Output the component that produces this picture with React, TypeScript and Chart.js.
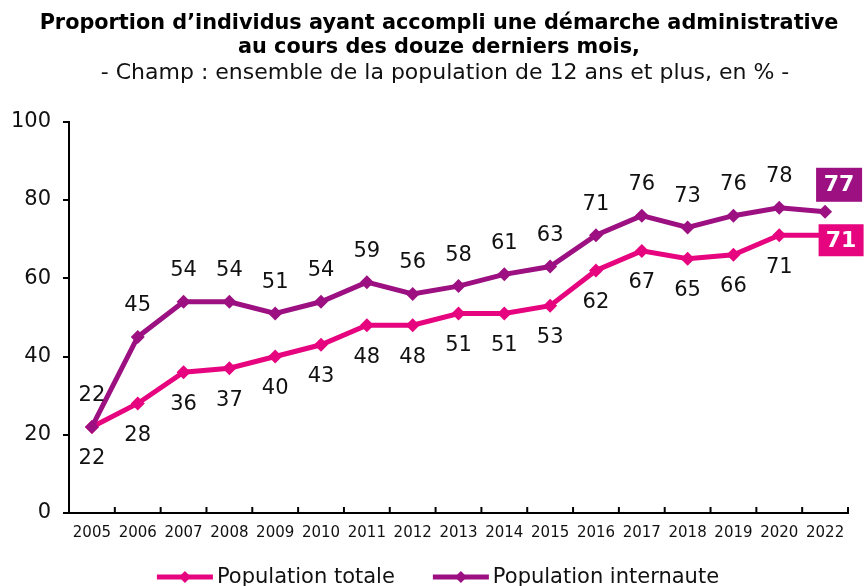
import React, { useEffect, useRef } from 'react';
import { Chart, registerables } from 'chart.js';

Chart.register(...registerables);

const years = ['2005', '2006', '2007', '2008', '2009', '2010', '2011', '2012', '2013', '2014', '2015', '2016', '2017', '2018', '2019', '2020', '2022'];
const totale = [22, 28, 36, 37, 40, 43, 48, 48, 51, 51, 53, 62, 67, 65, 66, 71, 71];
const internaute = [22, 45, 54, 54, 51, 54, 59, 56, 58, 61, 63, 71, 76, 73, 76, 78, 77];
const titleLines = ['Proportion d\u2019individus ayant accompli une démarche administrative', 'au cours des douze derniers mois,'];
const subtitleText = '- Champ : ensemble de la population de 12 ans et plus, en % -';
const seriesNames = ['Population totale', 'Population internaute'];

const PINK = '#E6047F';
const PURPLE = '#9C1081';
const FONT = '"DejaVu Sans", Verdana, sans-serif';

const labelPlugin = {
  id: 'valueLabels',
  afterDatasetsDraw(chart: any) {
    const ctx = chart.ctx;
    ctx.save();
    chart.data.datasets.forEach((ds: any, di: number) => {
      const meta = chart.getDatasetMeta(di);
      const below = ds.labelSide === 'below';
      meta.data.forEach((pt: any, i: number) => {
        const v = ds.data[i];
        const last = i === meta.data.length - 1;
        if (!last) {
          ctx.font = `21px ${FONT}`;
          ctx.fillStyle = '#111';
          ctx.textAlign = 'center';
          ctx.textBaseline = 'middle';
          ctx.fillText(String(v), pt.x, pt.y + (below ? 32 : -31));
        } else {
          const cx = pt.x + (below ? 16 : 14);
          const cy = pt.y + (below ? 5 : -27);
          const w = below ? 45 : 46;
          const h = below ? 32 : 34;
          ctx.fillStyle = ds.borderColor;
          ctx.fillRect(cx - w / 2, cy - h / 2, w, h);
          ctx.font = `bold 22px ${FONT}`;
          ctx.fillStyle = '#fff';
          ctx.textAlign = 'center';
          ctx.textBaseline = 'middle';
          ctx.fillText(String(v), cx, cy + 1);
        }
      });
    });
    ctx.restore();
  },
};

const axisTicksPlugin = {
  id: 'xInnerTicks',
  afterDraw(chart: any) {
    const ctx = chart.ctx;
    const xs = chart.scales.x;
    const bottom = chart.chartArea.bottom;
    ctx.save();
    ctx.strokeStyle = '#000';
    ctx.lineWidth = 2;
    for (let i = 0; i <= years.length; i++) {
      const x = xs.getPixelForValue(i - 0.5);
      ctx.beginPath();
      ctx.moveTo(x, bottom - 6);
      ctx.lineTo(x, bottom);
      ctx.stroke();
    }
    ctx.restore();
  },
};

// shift the title blocks so they are centred where the original has them
const titleShiftPlugin = {
  id: 'titleShift',
  afterLayout(chart: any) {
    chart.boxes.forEach((b: any) => {
      if (b.options && b.options.text !== undefined) {
        const isSub = b.options.text === subtitleText;
        const dx = isSub ? 21 : 15;
        b.left += dx;
        b.right += dx;
      }
    });
  },
};

const legendPlugin = {
  id: 'customLegend',
  afterDraw(chart: any) {
    const ctx = chart.ctx;
    ctx.save();
    ctx.font = `21px ${FONT}`;
    const sample = 56;
    const gapText = 4;
    const gapItems = 38;
    const dsList = [chart.data.datasets[0], chart.data.datasets[1]];
    const widths = dsList.map((d: any) => sample + gapText + ctx.measureText(d.label).width);
    const total = widths[0] + gapItems + widths[1];
    let x = 438 - total / 2;
    const y = chart.height - 9;
    dsList.forEach((d: any, i: number) => {
      ctx.strokeStyle = d.borderColor;
      ctx.lineWidth = 5;
      ctx.beginPath();
      ctx.moveTo(x, y);
      ctx.lineTo(x + sample, y);
      ctx.stroke();
      const mx = x + sample / 2;
      ctx.fillStyle = d.borderColor;
      ctx.beginPath();
      ctx.moveTo(mx, y - 6);
      ctx.lineTo(mx + 6, y);
      ctx.lineTo(mx, y + 6);
      ctx.lineTo(mx - 6, y);
      ctx.closePath();
      ctx.fill();
      ctx.fillStyle = '#111';
      ctx.textAlign = 'left';
      ctx.textBaseline = 'middle';
      ctx.fillText(d.label, x + sample + gapText, y + 1);
      x += widths[i] + gapItems;
    });
    ctx.restore();
  },
};

export default function App() {
  const ref = useRef<HTMLCanvasElement | null>(null);
  useEffect(() => {
    document.body.style.margin = '0';
    if (!ref.current) return;
    const chart = new Chart(ref.current, {
      type: 'line',
      data: {
        labels: years,
        datasets: [
          {
            label: seriesNames[0],
            data: totale,
            borderColor: PINK,
            backgroundColor: PINK,
            borderWidth: 5,
            pointStyle: 'rectRot',
            pointRadius: 7,
            pointBorderWidth: 0,
            pointBackgroundColor: PINK,
            order: 2,
            labelSide: 'below',
          } as any,
          {
            label: seriesNames[1],
            data: internaute,
            borderColor: PURPLE,
            backgroundColor: PURPLE,
            borderWidth: 5,
            pointStyle: 'rectRot',
            pointRadius: 7,
            pointBorderWidth: 0,
            pointBackgroundColor: PURPLE,
            order: 1,
            labelSide: 'above',
          } as any,
        ],
      },
      options: {
        responsive: false,
        animation: false,
        devicePixelRatio: 1,
        layout: { padding: { left: 0, right: 16, top: 0, bottom: 40 } },
        plugins: {
          legend: { display: false },
          tooltip: { enabled: false },
          title: {
            display: true,
            text: titleLines,
            color: '#000',
            font: { family: FONT, size: 20.8, weight: 'bold', lineHeight: 1.15 },
            padding: { top: 12, bottom: 0 },
          },
          subtitle: {
            display: true,
            text: subtitleText,
            color: '#111',
            font: { family: FONT, size: 22, lineHeight: 1.18 },
            padding: { top: 0, bottom: 36 },
          },
        },
        scales: {
          x: {
            type: 'category',
            offset: true,
            grid: { display: false, drawTicks: false },
            border: { display: true, color: '#000', width: 2 },
            ticks: { color: '#111', font: { family: FONT, size: 15 }, padding: 11, maxRotation: 0, autoSkip: false },
            afterFit: (s: any) => { s.height = 33; },
          },
          y: {
            min: 0,
            max: 100,
            ticks: { stepSize: 20, color: '#111', font: { family: FONT, size: 21 }, padding: 12 },
            grid: { drawOnChartArea: false, drawTicks: true, tickLength: 6, color: '#000', lineWidth: 2 },
            border: { display: true, color: '#000', width: 2 },
            afterFit: (s: any) => { s.width = 69; },
          },
        },
      },
      plugins: [titleShiftPlugin, labelPlugin, axisTicksPlugin, legendPlugin],
    });
    return () => chart.destroy();
  }, []);
  return (
    <div style={{ width: 864, height: 586 }}>
      <canvas ref={ref} width={864} height={586} />
    </div>
  );
}
